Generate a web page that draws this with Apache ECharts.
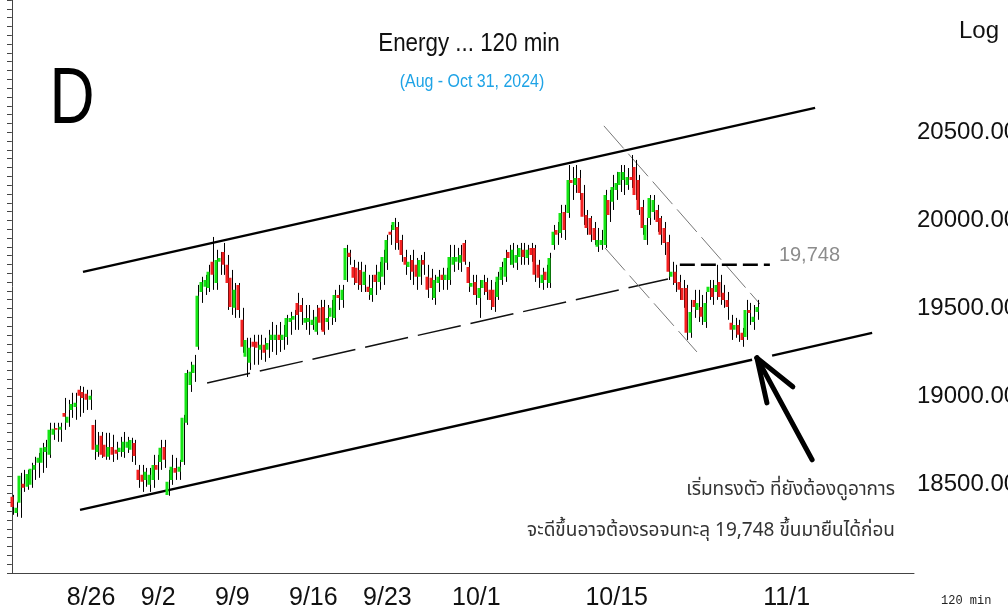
<!DOCTYPE html>
<html>
<head>
<meta charset="utf-8">
<script src="https://cdn.jsdelivr.net/npm/echarts@6/dist/echarts.min.js"></script>
<style>
  html, body { margin: 0; padding: 0; background: #fff; }
  #chart { width: 1008px; height: 613px; }
</style>
</head>
<body>
<div id="chart"></div>
<script>
// trading days shown (first day only has its last 2 bars), 4 bars of 120 min per day
const days = ['8/20', '8/21', '8/22', '8/23',
  '8/26', '8/27', '8/28', '8/29', '8/30',
  '9/2', '9/3', '9/4', '9/5', '9/6',
  '9/9', '9/10', '9/11', '9/12', '9/13',
  '9/16', '9/17', '9/18', '9/19', '9/20',
  '9/23', '9/24', '9/25', '9/26', '9/27', '9/30',
  '10/1', '10/2', '10/3', '10/4',
  '10/7', '10/8', '10/9', '10/10', '10/11',
  '10/15', '10/16', '10/17', '10/18',
  '10/21', '10/22', '10/24', '10/25',
  '10/28', '10/29', '10/30', '10/31'];
const futureDays = ['11/1', '11/4', '11/5', '11/6', '11/7', '11/8', '11/11', '11/12', '11/13', '11/14', '11/15'];
const futureBars = 42;
const tickDays = ['8/26', '9/2', '9/9', '9/16', '9/23', '10/1', '10/15', '11/1'];

const opens = [
  18432, 18341, 18398, 18506, 18489, 18500, 18585, 18625, 18625, 18687, 18670, 18784, 18823, 18812,
  18908, 18852, 18925, 18942, 19039, 19027, 19016, 18982,
  18840, 18687, 18778, 18727, 18659, 18715, 18699, 18687, 18687, 18710, 18699, 18738,
  18585, 18557, 18528, 18500, 18528, 18613, 18630, 18715, 18443, 18528, 18596, 18574,
  18630, 18852, 19067, 19135, 19283, 19594, 19623, 19617,
  19765, 19645, 19765, 19821, 19748, 19674, 19504, 19634, 19436, 19226, 19192, 19311,
  19311, 19266, 19294, 19266, 19322, 19322, 19351, 19322,
  19339, 19424, 19436, 19532, 19520, 19419, 19424, 19407, 19368, 19504, 19509, 19424,
  19453, 19447, 19577, 19549, 19662, 19816, 19736, 19731,
  19719, 19634, 19623, 19577, 19691, 19651, 19680, 19759, 19935, 19946, 19963, 19889,
  19793, 19736, 19776, 19748, 19680, 19776, 19680, 19674, 19560, 19645, 19691, 19662,
  19662, 19748, 19765, 19759, 19872, 19736, 19623, 19651, 19560, 19617, 19651, 19606,
  19606, 19566, 19662, 19680, 19821, 19748, 19759, 19793, 19833, 19787, 19844, 19844,
  19748, 19645, 19708, 19645, 19861, 19946, 19929, 20048, 20042, 20229, 20201, 20241,
  20156, 20031, 20014, 19957, 19850, 19861, 19861, 20116, 20105, 20173, 20201, 20229,
  20201, 20246, 20303, 20229, 20076, 19889, 20014, 20048, 20059, 20014, 19957, 19878,
  19680, 19708, 19651, 19617, 19617, 19362, 19549, 19492, 19509, 19424, 19594, 19617,
  19594, 19651, 19589, 19549, 19419, 19379, 19407, 19362, 19339, 19492, 19424, 19481
];
const closes = [
  18375, 18370, 18551, 18483, 18562, 18591, 18613, 18653, 18710, 18715, 18812, 18818, 18812, 18829,
  18886, 18886, 18959, 18965, 19005, 18993, 18982, 19005,
  18699, 18727, 18670, 18659, 18715, 18670, 18676, 18710, 18744, 18744, 18755, 18664,
  18528, 18517, 18574, 18557, 18613, 18585, 18710, 18642, 18517, 18602, 18568, 18602,
  18880, 19135, 19141, 19181, 19572, 19651, 19662, 19708,
  19691, 19776, 19787, 19748, 19645, 19509, 19606, 19492, 19283, 19322, 19277, 19283,
  19277, 19294, 19249, 19305, 19351, 19351, 19322, 19351,
  19447, 19447, 19458, 19464, 19481, 19447, 19447, 19436, 19453, 19419, 19368, 19447,
  19504, 19577, 19560, 19606, 19844, 19793, 19674, 19645,
  19634, 19708, 19594, 19617, 19651, 19708, 19793, 19889, 19918, 19991, 19872, 19804,
  19748, 19765, 19708, 19680, 19776, 19748, 19606, 19617, 19662, 19680, 19662, 19691,
  19793, 19793, 19793, 19804, 19765, 19645, 19645, 19577, 19617, 19662, 19594, 19549,
  19509, 19680, 19736, 19787, 19787, 19833, 19804, 19844, 19793, 19833, 19804, 19691,
  19674, 19691, 19662, 19787, 19935, 19918, 20042, 19946, 20229, 20212, 20241, 20156,
  20020, 19957, 19918, 19889, 19889, 19889, 20144, 20031, 20190, 20212, 20275, 20275,
  20246, 20229, 20144, 20059, 19957, 19974, 20127, 20116, 19991, 19918, 19872, 19708,
  19708, 19645, 19606, 19549, 19362, 19481, 19509, 19532, 19453, 19532, 19623, 19566,
  19634, 19566, 19549, 19509, 19379, 19407, 19351, 19322, 19492, 19475, 19453, 19509
];
const lows = [
  18330, 18319, 18313, 18460, 18472, 18483, 18528, 18540, 18568, 18596, 18653, 18755, 18744, 18744,
  18812, 18829, 18880, 18869, 18886, 18908, 18925, 18925,
  18642, 18659, 18653, 18642, 18642, 18630, 18642, 18659, 18653, 18681, 18630, 18613,
  18483, 18460, 18489, 18460, 18483, 18528, 18585, 18596, 18438, 18500, 18528, 18528,
  18613, 18840, 19027, 19084, 19266, 19532, 19577, 19594,
  19606, 19606, 19691, 19691, 19492, 19464, 19447, 19447, 19249, 19112, 19152, 19181,
  19181, 19209, 19198, 19220, 19254, 19237, 19254, 19266,
  19294, 19351, 19379, 19379, 19407, 19379, 19351, 19379, 19351, 19379, 19351, 19379,
  19407, 19424, 19492, 19504, 19651, 19748, 19634, 19606,
  19594, 19594, 19549, 19538, 19577, 19606, 19634, 19719, 19861, 19833, 19833, 19765,
  19691, 19662, 19634, 19606, 19634, 19691, 19560, 19549, 19521, 19594, 19606, 19606,
  19634, 19708, 19719, 19708, 19748, 19594, 19577, 19521, 19447, 19577, 19549, 19492,
  19481, 19549, 19634, 19651, 19748, 19731, 19719, 19748, 19748, 19748, 19765, 19651,
  19617, 19606, 19617, 19617, 19833, 19861, 19901, 19889, 20014, 20116, 20156, 20116,
  19974, 19918, 19878, 19861, 19821, 19833, 19844, 19991, 20059, 20116, 20161, 20144,
  20173, 20184, 20116, 20031, 19918, 19861, 19974, 20003, 19935, 19861, 19804, 19662,
  19634, 19594, 19549, 19504, 19322, 19334, 19447, 19424, 19407, 19390, 19549, 19521,
  19549, 19521, 19504, 19436, 19322, 19334, 19311, 19283, 19322, 19407, 19379, 19436
];
const highs = [
  18443, 18404, 18568, 18585, 18585, 18625, 18659, 18681, 18738, 18755, 18852, 18852, 18852, 18852,
  18993, 18982, 19022, 19022, 19061, 19056, 19039, 19039,
  18869, 18800, 18800, 18795, 18795, 18784, 18744, 18772, 18800, 18772, 18767, 18755,
  18613, 18613, 18596, 18596, 18670, 18670, 18755, 18755, 18585, 18670, 18653, 18642,
  18897, 19152, 19198, 19237, 19634, 19680, 19691, 19748,
  19906, 19833, 19821, 19872, 19804, 19719, 19645, 19645, 19504, 19334, 19334, 19351,
  19351, 19351, 19334, 19379, 19424, 19407, 19424, 19407,
  19464, 19481, 19492, 19589, 19560, 19520, 19520, 19492, 19520, 19549, 19549, 19520,
  19549, 19606, 19634, 19634, 19861, 19833, 19776, 19765,
  19765, 19748, 19691, 19691, 19748, 19765, 19833, 19918, 19974, 20014, 19991, 19918,
  19833, 19804, 19833, 19787, 19804, 19821, 19748, 19725, 19691, 19719, 19731, 19731,
  19861, 19861, 19844, 19861, 19889, 19765, 19691, 19691, 19662, 19691, 19674, 19662,
  19651, 19708, 19765, 19833, 19861, 19872, 19861, 19872, 19872, 19861, 19872, 19861,
  19776, 19731, 19748, 19816, 19974, 19991, 20088, 20088, 20314, 20303, 20314, 20286,
  20201, 20059, 20025, 19991, 19957, 19946, 20173, 20173, 20258, 20275, 20314, 20314,
  20297, 20371, 20343, 20258, 20116, 20014, 20144, 20144, 20088, 20025, 19991, 19918,
  19765, 19748, 19691, 19662, 19634, 19549, 19606, 19606, 19577, 19594, 19662, 19662,
  19748, 19691, 19634, 19594, 19464, 19447, 19436, 19390, 19549, 19532, 19520, 19549
];

// hand-drawn annotations, as [bar position, index value] pairs
const upperChannel = [[19.2, 19708], [216.8, 20638]];
const lowerChannelA = [[18.4, 18358], [199.8, 19210]];
const lowerChannelB = [[205.2, 19233], [232.2, 19362]];
const midLine = [[52.7, 19078], [177.1, 19668]];
const fallTop = [[159.8, 20536], [201.9, 19526]];
const fallBottom = [[160.1, 19844], [184.9, 19254]];
const resistance = [[180.3, 19748], [204.6, 19748]];
const arrowShaft = [[216.0, 18642], [201.1, 19220]];
const arrowArm1 = [[201.1, 19220], [203.8, 18965]];
const arrowArm2 = [[201.1, 19220], [210.8, 19056]];

const categories = [];
days.forEach((d, i) => {
  const start = i === 0 ? 2 : 0;
  for (let b = start; b < 4; b++) categories.push(d + '|' + b);
});
for (let j = 0; j < futureBars; j++) {
  categories.push(futureDays[Math.floor(j / 4)] + '|' + (j % 4));
}

const ohlc = opens.map((o, i) => [o, closes[i], lows[i], highs[i]]);

const isTick = (index, value) => tickDays.includes(value.split('|')[0]) && value.endsWith('|0');

function drawn(points, lineStyle, z, extra) {
  return Object.assign({
    type: 'line',
    xAxisIndex: 1,
    yAxisIndex: 0,
    data: points,
    symbol: 'none',
    silent: true,
    lineStyle: lineStyle,
    z: z
  }, extra || {});
}

const chart = echarts.init(document.getElementById('chart'));

const sans = '"Liberation Sans", Arial, sans-serif';
const thai = 'Tahoma, "Noto Sans Thai", "Noto Sans", sans-serif';
const tickStyle = { color: '#444', width: 1 };

const option = {
  animation: false,
  backgroundColor: '#fff',
  grid: [
    { left: 10, right: 94, top: 0, bottom: 40, outerBoundsMode: 'none', containLabel: false },
    // same plot shifted 2px right, so the black wick sits at the right edge of each body
    { left: 12, right: 92, top: 0, bottom: 40, outerBoundsMode: 'none', containLabel: false }
  ],
  xAxis: [
    {
      type: 'category',
      data: categories,
      boundaryGap: true,
      axisLine: { lineStyle: { color: '#444' } },
      axisTick: { interval: isTick, length: 40, lineStyle: tickStyle },
      axisLabel: {
        interval: isTick,
        formatter: (v) => v.split('|')[0],
        align: 'left',
        verticalAlign: 'middle',
        margin: 25,
        padding: [0, 0, 0, 3],
        fontSize: 25,
        fontFamily: sans,
        color: '#111'
      },
      splitLine: { show: false }
    },
    { type: 'value', min: -0.5, max: categories.length - 0.5, show: false },
    { type: 'category', gridIndex: 1, data: categories, boundaryGap: true, show: false }
  ],
  yAxis: [
    {
      type: 'value',
      position: 'right',
      min: 18000,
      max: 21250,
      interval: 500,
      axisLine: { show: true, lineStyle: { color: '#444' } },
      axisTick: { show: true, inside: true, length: 4, lineStyle: tickStyle },
      minorTick: { show: true, splitNumber: 10, length: 3, lineStyle: tickStyle },
      axisLabel: {
        formatter: (v) => (v >= 18500 && v <= 20500) ? v.toFixed(2) : '',
        margin: 3,
        fontSize: 24,
        fontFamily: sans,
        color: '#111'
      },
      splitLine: { show: false }
    },
    {
      type: 'value',
      position: 'left',
      min: 18000,
      max: 21250,
      interval: 500,
      axisLine: { show: false },
      axisTick: { show: true, length: 3, lineStyle: tickStyle },
      minorTick: { show: true, splitNumber: 10, length: 3, lineStyle: tickStyle },
      axisLabel: { show: false },
      splitLine: { show: false }
    },
    { type: 'value', gridIndex: 1, min: 18000, max: 21250, show: false }
  ],
  graphic: [
    { type: 'text', x: 72, y: 101, scaleX: 0.78, style: { text: 'D', fontSize: 80, fontFamily: sans, fill: '#000', align: 'center', verticalAlign: 'middle' } },
    { type: 'text', x: 469, y: 44, scaleX: 0.86, style: { text: 'Energy ... 120 min', fontSize: 26, fontFamily: sans, fill: '#111', align: 'center', verticalAlign: 'middle' } },
    { type: 'text', x: 472, y: 82, scaleX: 0.84, style: { text: '(Aug - Oct 31, 2024)', fontSize: 19, fontFamily: sans, fill: '#1ea3e6', align: 'center', verticalAlign: 'middle' } },
    { type: 'text', x: 959, y: 31, style: { text: 'Log', fontSize: 24, fontFamily: sans, fill: '#111', verticalAlign: 'middle' } },
    { type: 'text', x: 895, y: 491, style: { text: 'เริ่มทรงตัว ที่ยังต้องดูอาการ', fontSize: 19, fontFamily: thai, fill: '#333', align: 'right', verticalAlign: 'middle' } },
    { type: 'text', x: 895, y: 532, style: { text: 'จะดีขึ้นอาจต้องรอจนทะลุ 19,748 ขึ้นมายืนได้ก่อน', fontSize: 19, fontFamily: thai, fill: '#333', align: 'right', verticalAlign: 'middle' } },
    { type: 'text', x: 941, y: 601, style: { text: '120 min', fontSize: 12, fontFamily: '"Liberation Mono", monospace', fill: '#222', verticalAlign: 'middle' } }
  ],
  series: [
    drawn(upperChannel, { color: '#000', width: 2.5 }, 1),
    drawn(lowerChannelA, { color: '#000', width: 2.5 }, 1),
    drawn(lowerChannelB, { color: '#000', width: 2.5 }, 1),
    drawn(midLine, { color: '#111', width: 1.5, type: [44, 10] }, 1),
    drawn(fallTop, { color: '#777', width: 1, type: [30, 7] }, 1),
    drawn(fallBottom, { color: '#777', width: 1, type: [30, 7] }, 1),
    drawn(resistance, { color: '#000', width: 2.5, type: [15, 6] }, 1, {
      endLabel: {
        show: true,
        formatter: '19,748',
        color: '#8c8c8c',
        fontSize: 20,
        fontFamily: sans,
        offset: [1, -9]
      }
    }),
    drawn(arrowShaft, { color: '#000', width: 5, cap: 'round' }, 5),
    drawn(arrowArm1, { color: '#000', width: 5, cap: 'round' }, 5),
    drawn(arrowArm2, { color: '#000', width: 5, cap: 'round' }, 5),
    {
      name: 'wick',
      type: 'candlestick',
      xAxisIndex: 2,
      yAxisIndex: 2,
      data: ohlc,
      barWidth: 1,
      silent: true,
      z: 3,
      itemStyle: { color: '#000', color0: '#000', borderColor: '#000', borderColor0: '#000', borderWidth: 1 }
    },
    {
      name: 'body',
      type: 'candlestick',
      xAxisIndex: 0,
      yAxisIndex: 0,
      data: ohlc,
      barWidth: 3.5,
      silent: true,
      z: 4,
      itemStyle: {
        color: '#14e614',
        color0: '#f52020',
        borderColor: 'rgba(0,0,0,0)',
        borderColor0: 'rgba(0,0,0,0)',
        borderWidth: 0
      }
    }
  ]
};

option && chart.setOption(option);
</script>
</body>
</html>
